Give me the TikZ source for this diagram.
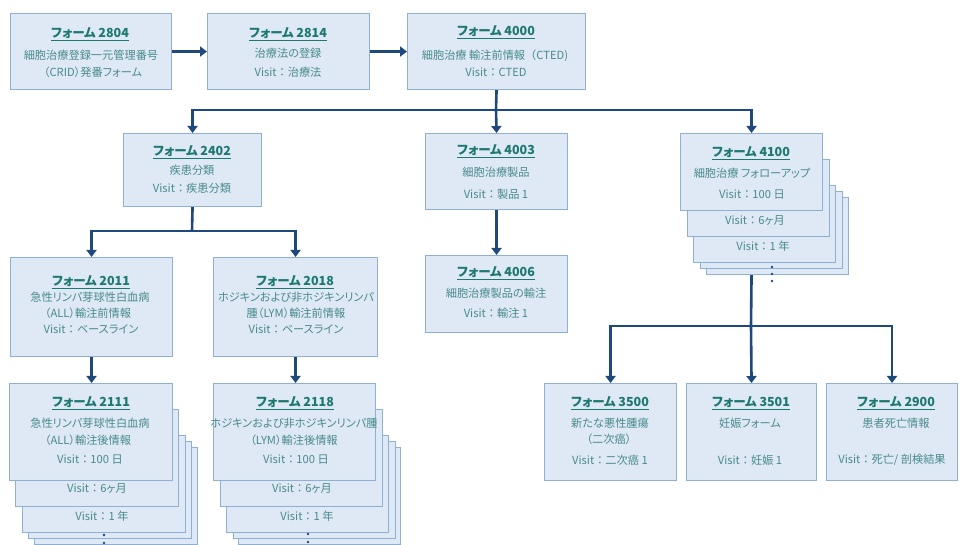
\documentclass[tikz,border=0pt]{standalone}
\usepackage{fontspec}
\setmainfont{Noto Sans CJK JP}[RawFeature=+palt]
\usetikzlibrary{arrows.meta}
\definecolor{boxfill}{RGB}{222,233,245}
\definecolor{boxdraw}{RGB}{143,176,214}
\definecolor{arrc}{RGB}{31,73,125}
\definecolor{titlec}{RGB}{28,120,112}
\definecolor{bodyc}{RGB}{72,138,140}
\tikzset{
  bx/.style={draw=boxdraw, fill=boxfill, line width=1.1pt, inner sep=0pt, anchor=north west},
  ln/.style={draw=arrc, line width=2.6pt},
  arr/.style={ln, -{Triangle[length=7pt,width=10pt]}},
  ttl/.style={inner sep=0pt, text=titlec, font=\fontsize{12.5}{14}\selectfont\bfseries},
  bdy/.style={inner sep=0pt, text=bodyc, font=\fontsize{11.2}{13}\selectfont},
}
\newcommand{\fc}{{\addfontfeature{RawFeature=-palt}：}}
\newcommand{\fbx}[5]{\node[bx, minimum width=#4pt, minimum height=#5pt] (#1) at (#2,#3) {};}
\newcommand{\txtl}[5]{\node[#2] (#1) at (#3,#4) {#5};}
\begin{document}
\begin{tikzpicture}[x=1pt,y=-1pt]
\useasboundingbox[fill=white] (0,0) rectangle (962,545);
% row 1
\fbx{n2804}{10}{13}{161}{76}
\fbx{n2814}{207}{13}{162}{76}
\fbx{n4000}{407}{13}{178}{76}
% row 2
\fbx{n2402}{123}{133}{138}{73}
\fbx{n4003}{425}{133}{142}{76}
\fbx{n4006}{425}{255}{142}{77}
\fbx{n4100e}{706}{197}{142}{77}
\fbx{n4100d}{700}{191}{142}{77}
\fbx{n4100c}{693}{185}{142}{77}
\fbx{n4100b}{687}{159}{142}{77}
\fbx{n4100}{680}{133}{142}{77}
% row 3
\fbx{n2011}{10}{257}{162}{99}
\fbx{n2018}{213}{257}{164}{99}
% row 4
\fbx{n2111e}{34}{447}{163}{97}
\fbx{n2111d}{28}{441}{163}{97}
\fbx{n2111c}{22}{435}{163}{97}
\fbx{n2111b}{15}{409}{163}{97}
\fbx{n2111}{9}{383}{163}{97}
\fbx{n2118e}{238}{447}{162}{97}
\fbx{n2118d}{233}{441}{162}{97}
\fbx{n2118c}{226}{435}{162}{97}
\fbx{n2118b}{220}{409}{162}{97}
\fbx{n2118}{213}{383}{162}{97}
\fbx{n3500}{544}{383}{132}{97}
\fbx{n3501}{686}{383}{130}{97}
\fbx{n2900}{826}{383}{131}{97}
% texts
\txtl{t2804a}{ttl}{90}{34}{\underline{フォーム 2804}}
\txtl{t2804b}{bdy}{91}{55}{細胞治療登録一元管理番号}
\txtl{t2804c}{bdy}{93}{72}{（CRID）発番フォーム}
\txtl{t2814a}{ttl}{288}{34}{\underline{フォーム 2814}}
\txtl{t2814b}{bdy}{288}{53}{治療法の登録}
\txtl{t2814c}{bdy}{288}{72}{Visit\fc 治療法}
\txtl{t4000a}{ttl}{496}{32}{\underline{フォーム 4000}}
\txtl{t4000b}{bdy}{495}{56}{細胞治療 輸注前情報{\addfontfeature{RawFeature=-palt}（}CTED)}
\txtl{t4000c}{bdy}{496}{72}{Visit\fc CTED}
\txtl{t2402a}{ttl}{192}{152}{\underline{フォーム 2402}}
\txtl{t2402b}{bdy}{192}{170}{疾患分類}
\txtl{t2402c}{bdy}{192}{188}{Visit\fc 疾患分類}
\txtl{t4003a}{ttl}{496}{151}{\underline{フォーム 4003}}
\txtl{t4003b}{bdy}{496}{172}{細胞治療製品}
\txtl{t4003c}{bdy}{496}{194}{Visit\fc 製品 1}
\txtl{t4006a}{ttl}{496}{273}{\underline{フォーム 4006}}
\txtl{t4006b}{bdy}{496}{293}{細胞治療製品の輸注}
\txtl{t4006c}{bdy}{496}{313}{Visit\fc 輸注 1}
\txtl{t4100a}{ttl}{751}{153}{\underline{フォーム 4100}}
\txtl{t4100b}{bdy}{752}{173}{細胞治療 フォローアップ}
\txtl{t4100c}{bdy}{752}{195}{Visit\fc 100 日}
\txtl{t4100d}{bdy}{755}{221}{Visit\fc 6ヶ月}
\txtl{t4100e}{bdy}{763}{246}{Visit\fc 1 年}
\txtl{t2011a}{ttl}{91}{282}{\underline{フォーム 2011}}
\txtl{t2011b}{bdy}{90}{297}{急性リンパ芽球性白血病}
\txtl{t2011c}{bdy}{88}{313}{（ALL）輸注前情報}
\txtl{t2011d}{bdy}{91}{329}{Visit\fc ベースライン}
\txtl{t2018a}{ttl}{295}{282}{\underline{フォーム 2018}}
\txtl{t2018b}{bdy}{296}{297}{ホジキンおよび非ホジキンリンパ}
\txtl{t2018c}{bdy}{296}{313}{腫（LYM）輸注前情報}
\txtl{t2018d}{bdy}{296}{329}{Visit\fc ベースライン}
\txtl{t2111a}{ttl}{91}{403}{\underline{フォーム 2111}}
\txtl{t2111b}{bdy}{90}{423}{急性リンパ芽球性白血病}
\txtl{t2111c}{bdy}{88}{440}{（ALL）輸注後情報}
\txtl{t2111d}{bdy}{90}{460}{Visit\fc 100 日}
\txtl{t2111e}{bdy}{97}{489}{Visit\fc 6ヶ月}
\txtl{t2111f}{bdy}{102}{516}{Visit\fc 1 年}
\txtl{t2118a}{ttl}{295}{403}{\underline{フォーム 2118}}
\txtl{t2118b}{bdy}{294}{423}{ホジキンおよび非ホジキンリンパ腫}
\txtl{t2118c}{bdy}{294}{440}{（LYM）輸注後情報}
\txtl{t2118d}{bdy}{296}{460}{Visit\fc 100 日}
\txtl{t2118e}{bdy}{302}{489}{Visit\fc 6ヶ月}
\txtl{t2118f}{bdy}{307}{516}{Visit\fc 1 年}
\txtl{t3500a}{ttl}{610}{403}{\underline{フォーム 3500}}
\txtl{t3500b}{bdy}{610}{423}{新たな悪性腫瘍}
\txtl{t3500c}{bdy}{609}{439}{（二次癌）}
\txtl{t3500d}{bdy}{610}{460}{Visit\fc 二次癌 1}
\txtl{t3501a}{ttl}{751}{403}{\underline{フォーム 3501}}
\txtl{t3501b}{bdy}{750}{423}{妊娠フォーム}
\txtl{t3501c}{bdy}{750}{460}{Visit\fc 妊娠 1}
\txtl{t2900a}{ttl}{896}{403}{\underline{フォーム 2900}}
\txtl{t2900b}{bdy}{896}{423}{患者死亡情報}
\txtl{t2900c}{bdy}{892}{460}{Visit\fc 死亡/ 剖検結果}
% junctions
\coordinate (j1) at (496,110);
\coordinate (j2) at (192,231);
\coordinate (j3) at (751,326);
% connectors
\draw[arr] (n2804) -- (n2814);
\draw[arr] (n2814) -- (n4000);
\draw[ln] (n4000.south) -- (j1);
\draw[arr] (j1) -| (n2402.north);
\draw[arr] (j1) -- (n4003.north);
\draw[arr] (j1) -| (n4100.north);
\draw[arr] (n4003) -- (n4006);
\draw[ln] (n2402.south) -- (j2);
\draw[arr] (j2) -| (n2011.north);
\draw[arr] (j2) -| (n2018.north);
\draw[arr] (n2011.south) -- (n2011.south |- n2111.north);
\draw[arr] (n2018.south) -- (n2018.south |- n2118.north);
\draw[ln] (n4100.south |- n4100e.south) -- (j3);
\draw[arr] (j3) -| (n3500.north);
\draw[arr] (j3) -- (n3501.north);
\draw[arr] (j3) -| (n2900.north);
% continuation dots
\foreach \yy in {267,274,281} \fill[arrc] (772,\yy) circle[radius=1.3pt];
\foreach \yy in {535,543} \fill[arrc] (104,\yy) circle[radius=1.3pt];
\foreach \yy in {534,542} \fill[arrc] (308,\yy) circle[radius=1.3pt];
\end{tikzpicture}
\end{document}
